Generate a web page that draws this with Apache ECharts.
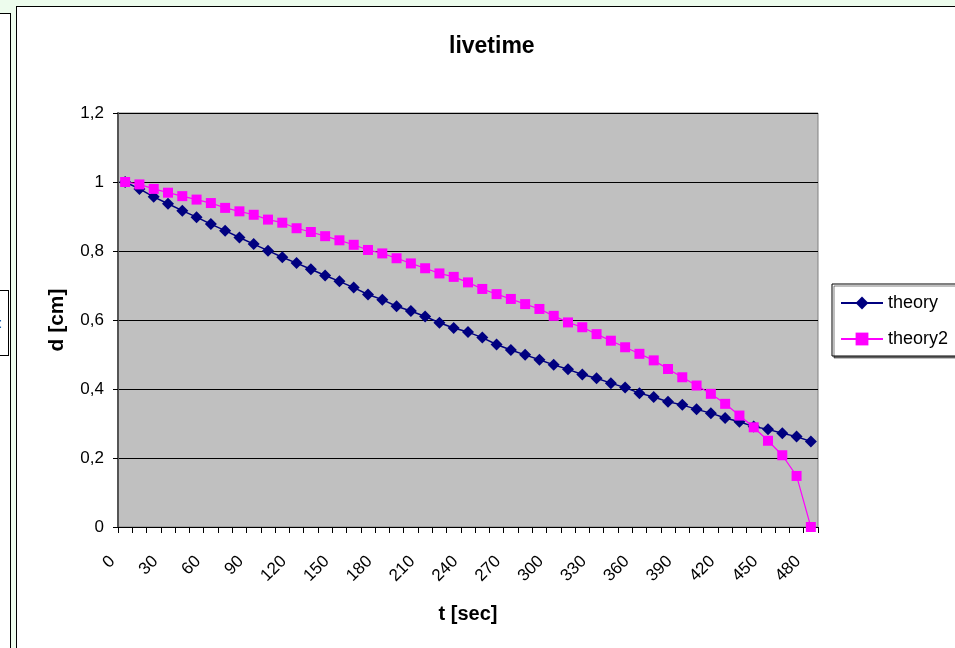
<!DOCTYPE html>
<html>
<head>
<meta charset="utf-8">
<script src="https://cdn.jsdelivr.net/npm/echarts@6/dist/echarts.min.js"></script>
<style>
  html, body { margin:0; padding:0; width:955px; height:648px; overflow:hidden; background:#edfced; font-family:"Liberation Sans", Arial, sans-serif; }
  #leftpanel { position:absolute; left:0; top:13px; width:10px; height:640px; background:#fff; border-right:1px solid #000; border-top:1px solid #000; }
  #leftbox { position:absolute; left:-1px; top:290px; width:8px; height:64px; border:1px solid #000; background:#fff; overflow:hidden; font-size:14px; }
  #frame { position:absolute; left:16px; top:6px; width:945px; height:650px; background:#fff; border-left:1px solid #000; border-top:1px solid #000; }
  #chart { position:absolute; left:18px; top:7px; width:937px; height:641px; }
</style>
</head>
<body>
<div id="leftpanel"></div>
<div id="leftbox"><span style="position:absolute;left:-2px;top:24px;">:</span></div>
<div id="frame"></div>
<div id="chart"></div>
<script>
const categories = ['0','10','20','30','40','50','60','70','80','90','100','110','120','130','140','150','160','170','180','190','200','210','220','230','240','250','260','270','280','290','300','310','320','330','340','350','360','370','380','390','400','410','420','430','440','450','460','470','480'];
const theory = [1.000,0.980,0.957,0.937,0.917,0.898,0.878,0.859,0.839,0.820,0.801,0.782,0.765,0.747,0.729,0.712,0.694,0.674,0.659,0.640,0.626,0.610,0.592,0.577,0.565,0.549,0.529,0.513,0.499,0.485,0.470,0.457,0.442,0.431,0.417,0.404,0.388,0.377,0.363,0.354,0.341,0.330,0.316,0.305,0.291,0.283,0.272,0.262,0.248];
const theory2 = [1.000,0.993,0.980,0.969,0.959,0.949,0.939,0.925,0.915,0.905,0.891,0.882,0.866,0.855,0.843,0.831,0.818,0.803,0.793,0.779,0.764,0.750,0.735,0.725,0.709,0.690,0.675,0.661,0.646,0.632,0.612,0.593,0.579,0.559,0.540,0.521,0.502,0.483,0.458,0.434,0.410,0.386,0.357,0.323,0.289,0.250,0.208,0.148,0.000];
const yTicks = ['0','0,2','0,4','0,6','0,8','1','1,2'];

const chart = echarts.init(document.getElementById('chart'), null, {renderer:'canvas'});
const font = '"Liberation Sans", Arial, sans-serif';
chart.setOption({
  animation: false,
  backgroundColor: 'transparent',
  title: {
    text: 'livetime', left: 431, top: 28, padding: 0,
    textStyle: { fontFamily: font, fontSize: 23, fontWeight: 'bold', color: '#000' }
  },
  legend: {
    orient: 'vertical', left: 814, top: 277,
    padding: [10, 30, 8, 8], itemGap: 18, itemWidth: 42, itemHeight: 16,
    backgroundColor: '#fff', borderColor: '#000', borderWidth: 1, borderRadius: 0,
    shadowColor: 'rgba(0,0,0,0.5)', shadowOffsetX: 2, shadowOffsetY: 2, shadowBlur: 0,
    textStyle: { fontFamily: font, fontSize: 18, color: '#000' },
    data: ['theory', 'theory2']
  },
  grid: {
    left: 100, top: 106, width: 700, height: 414,
    show: true, backgroundColor: '#c0c0c0', borderColor: '#808080', borderWidth: 1
  },
  xAxis: {
    type: 'category', data: categories, boundaryGap: true,
    name: 't [sec]', nameLocation: 'middle', nameGap: 77,
    nameTextStyle: { fontFamily: font, fontSize: 20, fontWeight: 'bold', color: '#000' },
    axisLine: { lineStyle: { color: '#000', width: 1 } },
    axisTick: { show: true, interval: 0, length: 6, lineStyle: { color: '#000' } },
    axisLabel: { interval: 2, rotate: 45, margin: 19, padding: [0, 18, 0, 0], fontFamily: font, fontSize: 17, color: '#000' },
    splitLine: { show: false }
  },
  yAxis: {
    type: 'value', min: 0, max: 1.2, interval: 0.2,
    name: 'd [cm]', nameLocation: 'middle', nameGap: 50, nameRotate: 90,
    nameTextStyle: { fontFamily: font, fontSize: 21, fontWeight: 'bold', color: '#000' },
    axisLine: { show: true, lineStyle: { color: '#555', width: 2 } },
    axisTick: { show: true, length: 5, lineStyle: { color: '#000' } },
    axisLabel: {
      margin: 14, padding: [8, 0, 0, 0], fontFamily: font, fontSize: 17, color: '#000',
      formatter: function (v) { return yTicks[Math.round(v / 0.2)]; }
    },
    splitLine: { show: true, lineStyle: { color: '#000', width: 1 } }
  },
  series: [
    {
      name: 'theory', type: 'line', data: theory,
      symbol: 'diamond', symbolSize: 12, showAllSymbol: true,
      lineStyle: { color: '#000080', width: 1.5 },
      itemStyle: { color: '#000080' }, z: 2
    },
    {
      name: 'theory2', type: 'line', data: theory2,
      symbol: 'rect', symbolSize: 10, showAllSymbol: true,
      lineStyle: { color: '#ff00ff', width: 1.2 },
      itemStyle: { color: '#ff00ff' }, z: 3
    }
  ]
});
</script>
</body>
</html>
